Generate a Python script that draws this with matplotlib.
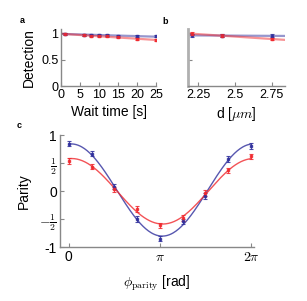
import numpy as np
import matplotlib
matplotlib.use('Agg')
import matplotlib.pyplot as plt

plt.rcParams['font.family'] = ['Liberation Sans', 'DejaVu Sans']
plt.rcParams['mathtext.fontset'] = 'cm'

# panel a: detection vs wait time
wait_t = [1, 6, 8, 10, 12, 15, 20, 25]
det_wait_blue = [0.99, 0.97, 0.97, 0.96, 0.96, 0.95, 0.94, 0.94]
det_wait_red = [0.98, 0.96, 0.95, 0.94, 0.94, 0.92, 0.89, 0.87]
err_wait = [0.02, 0.02, 0.02, 0.02, 0.02, 0.02, 0.02, 0.02]

# panel b: detection vs spacing
dist = [2.21, 2.41, 2.75]
det_d_blue = [0.96, 0.95, 0.95]
det_d_red = [0.99, 0.95, 0.89]
err_d = [0.025, 0.025, 0.025]

# panel c: parity oscillation
phase_k = [0, 1, 2, 3, 4, 5, 6, 7, 8]   # in units of pi/4
par_blue = [0.85, 0.67, 0.08, -0.50, -0.85, -0.54, -0.09, 0.57, 0.81]
par_red = [0.54, 0.44, 0.03, -0.32, -0.61, -0.48, -0.03, 0.37, 0.62]
par_err = [0.05, 0.05, 0.05, 0.05, 0.04, 0.05, 0.05, 0.05, 0.05]

BLUE = '#2e2e9c'
RED = '#f0282d'
SPINE = '#888888'

fig = plt.figure(figsize=(3.07, 3.01), dpi=100)


def style(ax):
    for s in ['top', 'right']:
        ax.spines[s].set_visible(False)
    for s in ['left', 'bottom']:
        ax.spines[s].set_color(SPINE)
        ax.spines[s].set_linewidth(1.0)
    ax.tick_params(direction='in', length=3, width=0.8, color=SPINE,
                   labelsize=9, pad=2)


def points(ax, x, y, e, c):
    ax.errorbar(x, y, yerr=e, fmt='s', ms=1.6, color=c, ecolor=c,
                elinewidth=0.8, capsize=1.3, capthick=0.8, alpha=0.85,
                zorder=3)


# --- a ---
ax_a = fig.add_axes([0.199, 0.714, 0.309, 0.19])
style(ax_a)
xa = np.array(wait_t)
for y, c in [(det_wait_blue, BLUE), (det_wait_red, RED)]:
    p = np.polyfit(xa, y, 1)
    xx = np.linspace(0, 25, 50)
    ax_a.plot(xx, np.polyval(p, xx), color=c, lw=1.6, alpha=0.5, zorder=2)
    points(ax_a, xa, y, err_wait, c)
ax_a.set_xlim(0, 25)
ax_a.set_ylim(0, 1.08)
ax_a.set_xticks([0, 5, 10, 15, 20, 25])
ax_a.set_yticks([0, 0.5, 1])
ax_a.set_yticklabels(['0', '0.5', '1'])
ax_a.set_xlabel('Wait time [s]', fontsize=10, labelpad=3)
ax_a.set_ylabel('Detection', fontsize=10, labelpad=4)

# --- b ---
ax_b = fig.add_axes([0.612, 0.714, 0.316, 0.19])
style(ax_b)
ax_b.spines['left'].set_color('#b0b0b0')
ax_b.spines['left'].set_linewidth(2.0)
xb = np.array(dist)
for y, c in [(det_d_blue, BLUE), (det_d_red, RED)]:
    p = np.polyfit(xb, y, 1)
    xx = np.linspace(2.18, 2.84, 50)
    ax_b.plot(xx, np.polyval(p, xx), color=c, lw=1.6, alpha=0.5, zorder=2)
    points(ax_b, xb, y, err_d, c)
ax_b.set_xlim(2.18, 2.84)
ax_b.set_ylim(0, 1.08)
ax_b.set_xticks([2.25, 2.5, 2.75])
ax_b.set_xticklabels(['2.25', '2.5', '2.75'])
ax_b.set_yticks([0, 0.5, 1])
ax_b.set_yticklabels([])
ax_b.set_xlabel(r'd [$\mu m$]', fontsize=10, labelpad=3)

# --- c ---
ax_c = fig.add_axes([0.195, 0.179, 0.632, 0.372])
style(ax_c)
phi = np.array(phase_k) * np.pi / 4
xx = np.linspace(0, 2 * np.pi, 200)
basis = np.column_stack([np.ones_like(phi), np.cos(phi), np.sin(phi)])
for y, c in [(par_blue, BLUE), (par_red, RED)]:
    coef = np.linalg.lstsq(basis, np.array(y), rcond=None)[0]
    fit = coef[0] + coef[1] * np.cos(xx) + coef[2] * np.sin(xx)
    ax_c.plot(xx, fit, color=c, lw=1.0, alpha=0.8, zorder=2)
    points(ax_c, phi, y, par_err, c)
ax_c.set_xlim(-0.31, 2 * np.pi + 0.1)
ax_c.set_ylim(-1, 1)
ax_c.set_xticks([0, np.pi, 2 * np.pi])
ax_c.set_xticklabels(['0', r'$\pi$', r'$2\pi$'], fontsize=10)
ax_c.set_yticks([-1, -0.5, 0, 0.5, 1])
ax_c.set_yticklabels(['-1', r'$-\frac{1}{2}$', '0', r'$\frac{1}{2}$', '1'],
                     fontsize=10)
ax_c.set_xlabel(r'$\phi_{\rm parity}$ [rad]', fontsize=10, labelpad=7)
ax_c.set_ylabel('Parity', fontsize=10, labelpad=6)

fig.text(0.063, 0.925, 'a', fontsize=6.5, fontweight='bold')
fig.text(0.528, 0.92, 'b', fontsize=6.5, fontweight='bold')
fig.text(0.055, 0.575, 'c', fontsize=6.5, fontweight='bold')

fig.savefig('out.png', dpi=100)
